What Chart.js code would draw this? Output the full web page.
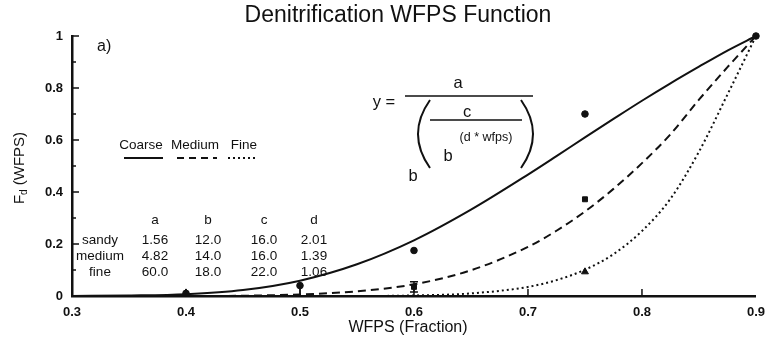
<!DOCTYPE html>
<html>
<head>
<meta charset="utf-8">
<title>Denitrification WFPS Function</title>
<script src="https://cdn.jsdelivr.net/npm/chart.js@4.4.0/dist/chart.umd.min.js"></script>
<style>
  html, body { margin: 0; padding: 0; background: #fff; }
</style>
</head>
<body>
<canvas id="wfps-chart" width="774" height="343"></canvas>
<script>
// fitted curves, read along the wfps axis
const wfps      = [0.3, 0.35, 0.4, 0.45, 0.5, 0.55, 0.6, 0.65, 0.7, 0.725, 0.75, 0.775, 0.8, 0.825, 0.85, 0.875, 0.9];
const coarseFit = [0, 0.002, 0.007, 0.023, 0.059, 0.122, 0.214, 0.332, 0.467, 0.538, 0.610, 0.681, 0.751, 0.818, 0.882, 0.944, 1.0];
const mediumFit = [0, 0, 0, 0.001, 0.006, 0.018, 0.045, 0.099, 0.189, 0.251, 0.325, 0.412, 0.511, 0.622, 0.755, 0.880, 1.0];
const fineFit   = [0, 0, 0, 0, 0, 0, 0.002, 0.010, 0.035, 0.061, 0.101, 0.161, 0.250, 0.374, 0.555, 0.775, 1.0];

// measured points, with error bar extent below / above each point
const sandyObsX = [0.4, 0.5, 0.6, 0.75, 0.9];
const sandyObsY = [0.01, 0.04, 0.175, 0.70, 1.0];
const sandyErrLo = [0, 0.04, 0, 0, 0];
const sandyErrHi = [0, 0, 0, 0, 0];
const mediumObsX = [0.6, 0.75];
const mediumObsY = [0.035, 0.372];
const mediumErrLo = [0.02, 0];
const mediumErrHi = [0.02, 0];
const fineObsX = [0.4, 0.75];
const fineObsY = [0.012, 0.093];

// parameter table
const soilTypes = ["sandy", "medium", "fine"];
const paramA = ["1.56", "4.82", "60.0"];
const paramB = ["12.0", "14.0", "18.0"];
const paramC = ["16.0", "16.0", "22.0"];
const paramD = ["2.01", "1.39", "1.06"];

const FONT = '"Liberation Sans", Arial, Helvetica, sans-serif';
const INK = "#111";
Chart.defaults.font.family = FONT;
Chart.defaults.color = INK;

const toPts = (xs, ys) => xs.map((x, i) => ({ x: x, y: ys[i] }));

const curve = (label, ys, dash) => ({
  label: label,
  data: toPts(wfps, ys),
  showLine: true,
  borderColor: INK,
  borderWidth: 2,
  borderDash: dash,
  pointRadius: 0,
  cubicInterpolationMode: "monotone",
  fill: false,
  clip: false,
});

const marks = (label, xs, ys, style, r, lo, hi) => ({
  label: label,
  data: toPts(xs, ys),
  showLine: false,
  pointStyle: style,
  pointRadius: r,
  backgroundColor: INK,
  borderColor: INK,
  borderWidth: 1,
  clip: false,
  errLo: lo || null,
  errHi: hi || null,
});

function txt(ctx, s, x, y, size, align, weight) {
  ctx.font = (weight || "normal") + " " + size + "px " + FONT;
  ctx.textAlign = align || "center";
  ctx.textBaseline = "middle";
  ctx.fillText(s, x, y);
}

const decorPlugin = {
  id: "decor",
  afterDatasetsDraw(chart) {
    const ctx = chart.ctx;
    const xs = chart.scales.x, ys = chart.scales.y;
    ctx.save();
    ctx.strokeStyle = INK;
    ctx.lineWidth = 1.5;
    chart.data.datasets.forEach((ds) => {
      if (!ds.errLo) return;
      ds.data.forEach((p, i) => {
        const lo = ds.errLo[i], hi = ds.errHi[i];
        if (!lo && !hi) return;
        const px = xs.getPixelForValue(p.x);
        const top = ys.getPixelForValue(p.y + hi);
        const bot = ys.getPixelForValue(Math.max(0, p.y - lo));
        ctx.beginPath();
        ctx.moveTo(px, top); ctx.lineTo(px, bot);
        if (hi) { ctx.moveTo(px - 4, top); ctx.lineTo(px + 4, top); }
        ctx.moveTo(px - 4, bot); ctx.lineTo(px + 4, bot);
        ctx.stroke();
      });
    });
    ctx.restore();
  },
  afterDraw(chart) {
    const ctx = chart.ctx;
    const xs = chart.scales.x, ys = chart.scales.y;
    const area = chart.chartArea;
    ctx.save();
    ctx.fillStyle = INK;
    ctx.strokeStyle = INK;

    // inward tick marks
    ctx.lineWidth = 1.5;
    ctx.beginPath();
    for (let i = 1; i <= 10; i++) {
      const py = ys.getPixelForValue(i / 10);
      const len = i % 2 === 0 ? 7 : 4;
      ctx.moveTo(area.left, py); ctx.lineTo(area.left + len, py);
    }
    for (let i = 4; i <= 8; i++) {
      const px = xs.getPixelForValue(i / 10);
      ctx.moveTo(px, area.bottom); ctx.lineTo(px, area.bottom - 7);
    }
    ctx.stroke();

    // titles
    txt(ctx, "Denitrification WFPS Function", 398, 16, 23);
    txt(ctx, "WFPS (Fraction)", 408, 328, 16);
    txt(ctx, "a)", 97, 47, 16, "left");

    // y title with subscript
    ctx.save();
    ctx.translate(24, 168);
    ctx.rotate(-Math.PI / 2);
    ctx.textBaseline = "alphabetic";
    ctx.textAlign = "left";
    ctx.font = "15px " + FONT;
    const wF = ctx.measureText("F").width;
    const wRest = ctx.measureText(" (WFPS)").width;
    ctx.font = "10px " + FONT;
    const wd = ctx.measureText("d").width;
    let x0 = -(wF + wd + wRest) / 2;
    ctx.font = "15px " + FONT;
    ctx.fillText("F", x0, 0);
    ctx.font = "10px " + FONT;
    ctx.fillText("d", x0 + wF, 3);
    ctx.font = "15px " + FONT;
    ctx.fillText(" (WFPS)", x0 + wF + wd, 0);
    ctx.restore();

    // line key
    txt(ctx, "Coarse", 141, 145, 13.5);
    txt(ctx, "Medium", 195, 145, 13.5);
    txt(ctx, "Fine", 244, 145, 13.5);
    const key = [[124, 163, []], [177, 217, [7, 5]], [228, 258, [2, 3]]];
    ctx.lineWidth = 2;
    key.forEach(([a, b, dash]) => {
      ctx.setLineDash(dash);
      ctx.beginPath();
      ctx.moveTo(a, 158); ctx.lineTo(b, 158);
      ctx.stroke();
    });
    ctx.setLineDash([]);

    // parameter table
    const cols = [155, 208, 264, 314];
    ["a", "b", "c", "d"].forEach((h, j) => txt(ctx, h, cols[j], 220, 13.5));
    soilTypes.forEach((s, i) => {
      const y = 240 + i * 16;
      txt(ctx, s, 100, y, 13.5);
      txt(ctx, paramA[i], cols[0], y, 13.5);
      txt(ctx, paramB[i], cols[1], y, 13.5);
      txt(ctx, paramC[i], cols[2], y, 13.5);
      txt(ctx, paramD[i], cols[3], y, 13.5);
    });

    // model equation
    txt(ctx, "y =", 384, 102, 16.5);
    txt(ctx, "a", 458, 83, 16.5);
    txt(ctx, "c", 467, 112, 16.5);
    txt(ctx, "(d * wfps)", 486, 138, 12.5);
    txt(ctx, "b", 448, 156, 16.5);
    txt(ctx, "b", 413, 176, 16.5);
    ctx.lineWidth = 1.6;
    ctx.beginPath();
    ctx.moveTo(405, 96); ctx.lineTo(533, 96);
    ctx.moveTo(430, 120); ctx.lineTo(522, 120);
    ctx.stroke();
    ctx.lineWidth = 2;
    ctx.beginPath();
    ctx.moveTo(430, 100); ctx.quadraticCurveTo(406, 134, 430, 168);
    ctx.moveTo(521, 100); ctx.quadraticCurveTo(545, 134, 521, 168);
    ctx.stroke();

    ctx.restore();
  },
};

const ctx = document.getElementById("wfps-chart").getContext("2d");
const chart = new Chart(ctx, {
  type: "scatter",
  data: {
    datasets: [
      curve("Coarse", coarseFit, []),
      curve("Medium", mediumFit, [8, 5]),
      curve("Fine", fineFit, [2, 3]),
      marks("sandy", sandyObsX, sandyObsY, "circle", 3.3, sandyErrLo, sandyErrHi),
      marks("medium", mediumObsX, mediumObsY, "rect", 3.5, mediumErrLo, mediumErrHi),
      marks("fine", fineObsX, fineObsY, "triangle", 4),
    ],
  },
  options: {
    responsive: false,
    animation: false,
    layout: { padding: { top: 36, right: 9, left: 0, bottom: 0 } },
    plugins: {
      legend: { display: false },
      tooltip: { enabled: false },
    },
    scales: {
      x: {
        type: "linear",
        min: 0.3,
        max: 0.9,
        afterFit: (s) => { s.height = 47; },
        grid: { display: false, drawTicks: false },
        border: { display: true, color: INK, width: 2.5 },
        ticks: {
          stepSize: 0.1,
          padding: 9,
          font: { size: 13, weight: "bold" },
          color: INK,
          callback: (v) => v.toFixed(1),
        },
      },
      y: {
        min: 0,
        max: 1,
        afterFit: (s) => { s.width = 72; },
        grid: { display: false, drawTicks: false },
        border: { display: true, color: INK, width: 2.5 },
        ticks: {
          stepSize: 0.2,
          padding: 9,
          font: { size: 13, weight: "bold" },
          color: INK,
          callback: (v) => (v === 0 ? "0" : Math.abs(v - 1) < 1e-9 ? "1" : v.toFixed(1)),
        },
      },
    },
  },
  plugins: [decorPlugin],
});
</script>
</body>
</html>
